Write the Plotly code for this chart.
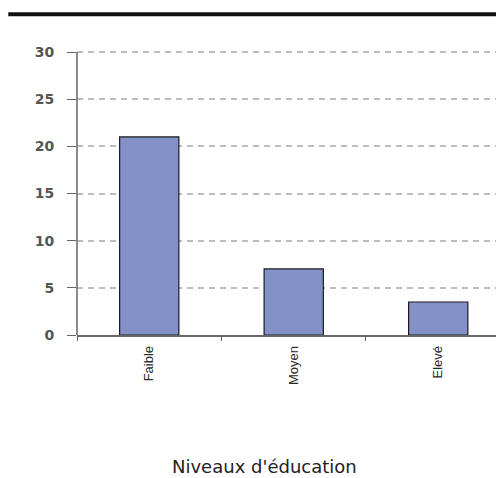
import plotly.graph_objects as go

categories = ["Faible", "Moyen", "Elevé"]
values = [21, 7, 3.5]
y_ticks = [0, 5, 10, 15, 20, 25, 30]
x_title = "Niveaux d'éducation"

fig = go.Figure()
fig.add_trace(go.Bar(
    x=categories, y=values, width=0.41,
    marker=dict(color="#8291C8", line=dict(color="#1a1a1a", width=1.2)),
    hoverinfo="skip",
))

fig.update_layout(
    width=496, height=478,
    margin=dict(l=77, r=0, t=47, b=143),
    paper_bgcolor="white", plot_bgcolor="white",
    showlegend=False,
    font=dict(family="Liberation Sans, Arial, sans-serif", color="#444"),
    xaxis=dict(
        range=[-0.5, 2.4], showgrid=False,
        showline=True, linecolor="#666", linewidth=1.5,
        ticks="outside", tickson="boundaries", ticklen=4, tickcolor="#666",
        tickangle=-90,
        tickfont=dict(family="Liberation Sans, Arial, sans-serif", size=13, color="#2a2a2a"),
        ticklabelstandoff=4,
    ),
    yaxis=dict(
        range=[0, 30.53], tickvals=y_ticks,
        showgrid=True, gridcolor="#bdbdbd", griddash="6px,5px", gridwidth=1.5,
        showline=False,
        ticks="outside", ticklen=9, tickcolor="#666",
        tickfont=dict(family="DejaVu Sans, sans-serif", size=14, color="#555", weight="bold"),
        ticklabelstandoff=10,
        zeroline=False,
    ),
    shapes=[
        dict(type="line", xref="paper", yref="paper",
             x0=-0.164, x1=1.0, y0=1.1135, y1=1.1135,
             line=dict(color="#111", width=4)),
        dict(type="line", xref="paper", yref="y",
             x0=0, x1=0, y0=0, y1=y_ticks[-1],
             line=dict(color="#666", width=1.5)),
    ],
    annotations=[dict(text=x_title, xref="paper", yref="paper",
                      x=0.447, y=-0.4555, showarrow=False,
                      xanchor="center", yanchor="middle",
                      font=dict(family="DejaVu Sans, sans-serif", size=18, color="#222"))],
)

fig.write_html("out.html", config={"displayModeBar": False},
               post_script="document.body.style.margin='0';document.body.style.overflow='hidden';")
